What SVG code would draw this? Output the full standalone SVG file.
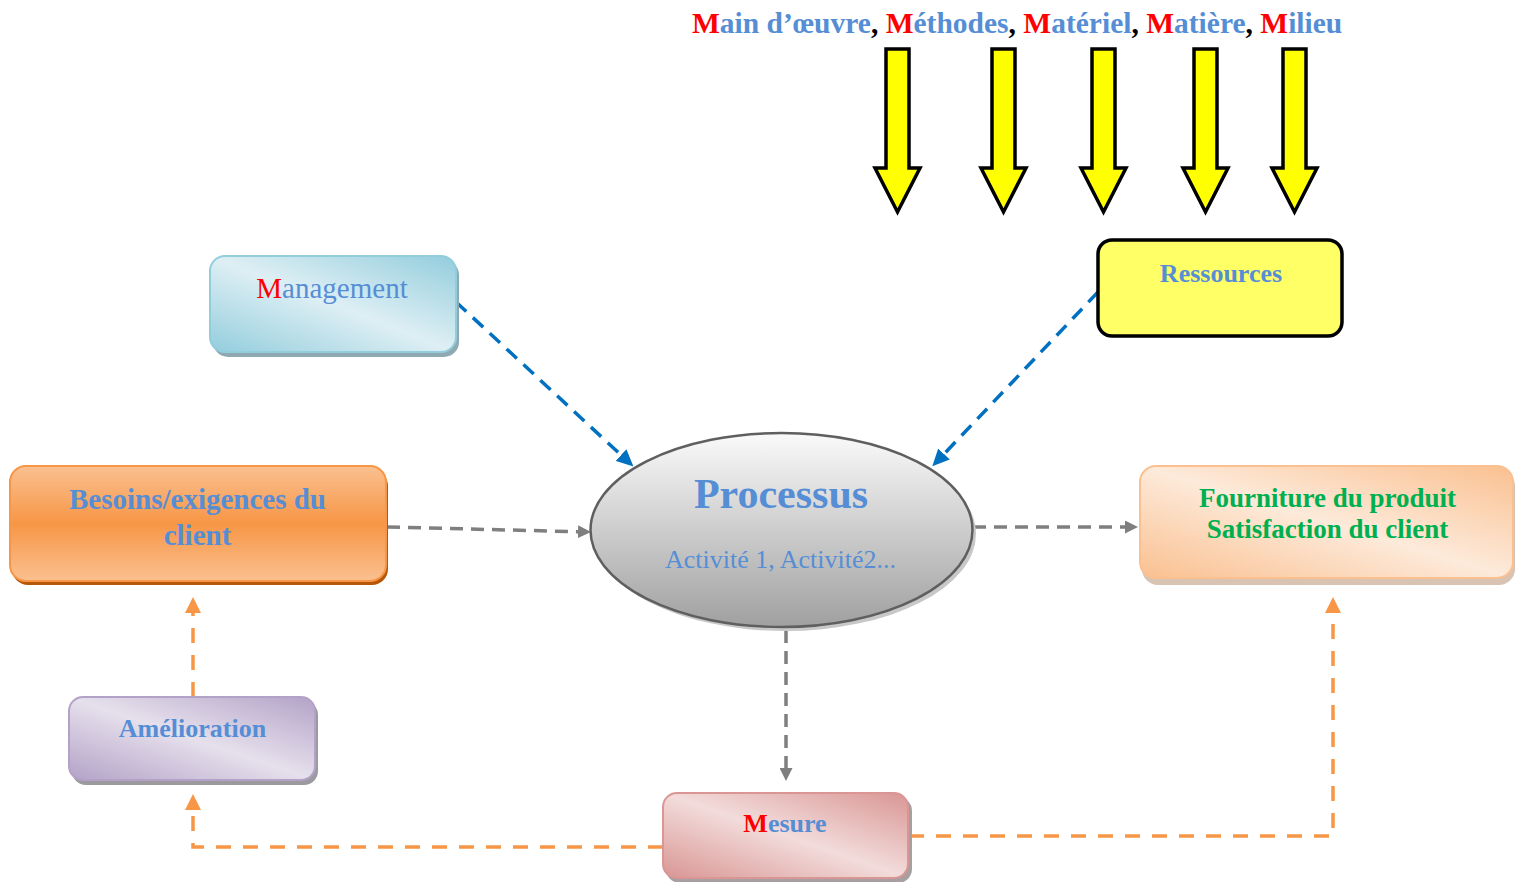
<svg xmlns="http://www.w3.org/2000/svg" width="1515" height="882" viewBox="0 0 1515 882">
<style>
.t{font-family:"Liberation Serif","Times New Roman",serif;}
.b{font-weight:bold;}
.blue{fill:#558ED5;}
.red{fill:#FF0000;}
.blk{fill:#000000;}
.green{fill:#00B050;}
.c-blue{fill:none;stroke:#0070C0;stroke-width:3.5;stroke-dasharray:14 9;}
.c-gray{fill:none;stroke:#7F7F7F;stroke-width:3.5;stroke-dasharray:13 8;}
.c-orange{fill:none;stroke:#F79646;stroke-width:3.5;stroke-dasharray:15 12;}
.yarrow{fill:#FFFF00;stroke:#000;stroke-width:3.5;stroke-linejoin:miter;}
</style>
<defs>
<linearGradient id="gMan" x1="0" y1="1" x2="1" y2="0">
<stop offset="0" stop-color="#93CDDD"/><stop offset="0.5" stop-color="#DEEFF4"/><stop offset="1" stop-color="#93CDDD"/>
</linearGradient>
<linearGradient id="gAme" x1="0" y1="1" x2="1" y2="0">
<stop offset="0" stop-color="#B3A2C7"/><stop offset="0.5" stop-color="#E6E0EC"/><stop offset="1" stop-color="#B3A2C7"/>
</linearGradient>
<linearGradient id="gMes" x1="0" y1="1" x2="1" y2="0">
<stop offset="0" stop-color="#D99694"/><stop offset="0.5" stop-color="#F2DCDB"/><stop offset="1" stop-color="#D99694"/>
</linearGradient>
<linearGradient id="gFou" x1="0" y1="1" x2="1" y2="0">
<stop offset="0" stop-color="#FAC090"/><stop offset="0.5" stop-color="#FDEADA"/><stop offset="1" stop-color="#FAC090"/>
</linearGradient>
<linearGradient id="gBes" x1="0" y1="0" x2="0" y2="1">
<stop offset="0" stop-color="#FAC090"/><stop offset="0.5" stop-color="#F79646"/><stop offset="1" stop-color="#FAC090"/>
</linearGradient>
<linearGradient id="gPro" x1="0" y1="0" x2="0" y2="1">
<stop offset="0" stop-color="#FAFAFA"/><stop offset="1" stop-color="#A0A0A0"/>
</linearGradient>
<marker id="mBlue" markerUnits="userSpaceOnUse" markerWidth="17" markerHeight="16" viewBox="0 -8 17 16" refX="0" refY="0" orient="auto">
<path d="M0,-8 L17,0 L0,8 z" fill="#0070C0"/>
</marker>
<marker id="mGray" markerUnits="userSpaceOnUse" markerWidth="13" markerHeight="13" viewBox="0 -6.5 13 13" refX="0" refY="0" orient="auto">
<path d="M0,-6.5 L13,0 L0,6.5 z" fill="#7F7F7F"/>
</marker>
<marker id="mOrange" markerUnits="userSpaceOnUse" markerWidth="16" markerHeight="16" viewBox="0 -8 16 16" refX="0" refY="0" orient="auto">
<path d="M0,-8 L16,0 L0,8 z" fill="#F79646"/>
</marker>
<polygon id="ya" points="-11.5,49 11.5,49 11.5,168 22.5,168 0,212 -22.5,168 -11.5,168"/>
</defs>

<g id="title">
<text class="t b" x="692" y="33" font-size="29.5"><tspan class="red">M</tspan><tspan class="blue">ain d’œuvre</tspan><tspan class="blk">, </tspan><tspan class="red">M</tspan><tspan class="blue">éthodes</tspan><tspan class="blk">, </tspan><tspan class="red">M</tspan><tspan class="blue">atériel</tspan><tspan class="blk">, </tspan><tspan class="red">M</tspan><tspan class="blue">atière</tspan><tspan class="blk">, </tspan><tspan class="red">M</tspan><tspan class="blue">ilieu</tspan></text>
</g>

<g id="yellow-arrows">
<use href="#ya" class="yarrow" x="897.5" y="0"/>
<use href="#ya" class="yarrow" x="1003.5" y="0"/>
<use href="#ya" class="yarrow" x="1103.5" y="0"/>
<use href="#ya" class="yarrow" x="1205.5" y="0"/>
<use href="#ya" class="yarrow" x="1294.5" y="0"/>
</g>

<g id="connectors">
<path class="c-blue" d="M456,302 L621,455" marker-end="url(#mBlue)"/>
<path class="c-blue" d="M1098,292 L944,454" marker-end="url(#mBlue)"/>
<path class="c-gray" d="M387,527 L578,531.7" marker-end="url(#mGray)"/>
<path class="c-gray" d="M973,527 L1125,527" marker-end="url(#mGray)"/>
<path class="c-gray" d="M786,630 L786,768" marker-end="url(#mGray)"/>
<path class="c-orange" d="M193,697 L193,613" marker-end="url(#mOrange)"/>
<path class="c-orange" d="M663,847 H193 V810" marker-end="url(#mOrange)"/>
<path class="c-orange" d="M909,836 H1333 V613" marker-end="url(#mOrange)"/>
</g>

<g id="management">
<rect x="213" y="260" width="246" height="97" rx="15" fill="#8EA9B2"/>
<rect x="210" y="256" width="246" height="96" rx="15" fill="url(#gMan)" stroke="#92CDDC" stroke-width="2"/>
<text class="t" x="332" y="298" font-size="29" text-anchor="middle"><tspan class="red">M</tspan><tspan class="blue">anagement</tspan></text>
</g>

<g id="ressources">
<rect x="1098" y="240" width="244" height="96" rx="14" fill="#FFFF66" stroke="#000" stroke-width="3.5"/>
<text class="t b blue" x="1221" y="282" font-size="26" text-anchor="middle">Ressources</text>
</g>

<g id="besoins">
<rect x="12" y="470" width="376" height="115" rx="16" fill="#B65708"/>
<rect x="10" y="466" width="376" height="115" rx="16" fill="url(#gBes)" stroke="#F79646" stroke-width="2"/>
<text class="t b blue" x="197.5" y="509" font-size="29" text-anchor="middle">Besoins/exigences du</text>
<text class="t b blue" x="197.5" y="545" font-size="29" text-anchor="middle">client</text>
</g>

<g id="processus">
<ellipse cx="785" cy="534" rx="191" ry="97" fill="#C8C8C8"/>
<ellipse cx="781.5" cy="530" rx="191" ry="97" fill="url(#gPro)" stroke="#5F5F5F" stroke-width="2.5"/>
<text class="t b blue" x="781" y="508" font-size="42" text-anchor="middle">Processus</text>
<text class="t blue" x="780.5" y="568" font-size="26" text-anchor="middle">Activité 1, Activité2...</text>
</g>

<g id="fourniture">
<rect x="1142" y="470" width="373" height="115" rx="16" fill="#D9C3B3"/>
<rect x="1140" y="466" width="373" height="112" rx="16" fill="url(#gFou)" stroke="#FAC090" stroke-width="2"/>
<text class="t b green" x="1327.5" y="507" font-size="27" text-anchor="middle">Fourniture du produit</text>
<text class="t b green" x="1327.5" y="538" font-size="27" text-anchor="middle">Satisfaction du client</text>
</g>

<g id="amelioration">
<rect x="72" y="701" width="246" height="84" rx="14" fill="#9C9A9F"/>
<rect x="69" y="697" width="246" height="83" rx="14" fill="url(#gAme)" stroke="#B3A2C7" stroke-width="2"/>
<text class="t b blue" x="192.5" y="737" font-size="26" text-anchor="middle">Amélioration</text>
</g>

<g id="mesure">
<rect x="666" y="797" width="246" height="86" rx="14" fill="#A8A0A0"/>
<rect x="663" y="793" width="245" height="85" rx="14" fill="url(#gMes)" stroke="#D99694" stroke-width="2"/>
<text class="t b" x="785" y="832" font-size="26" text-anchor="middle"><tspan class="red">M</tspan><tspan class="blue">esure</tspan></text>
</g>
</svg>
